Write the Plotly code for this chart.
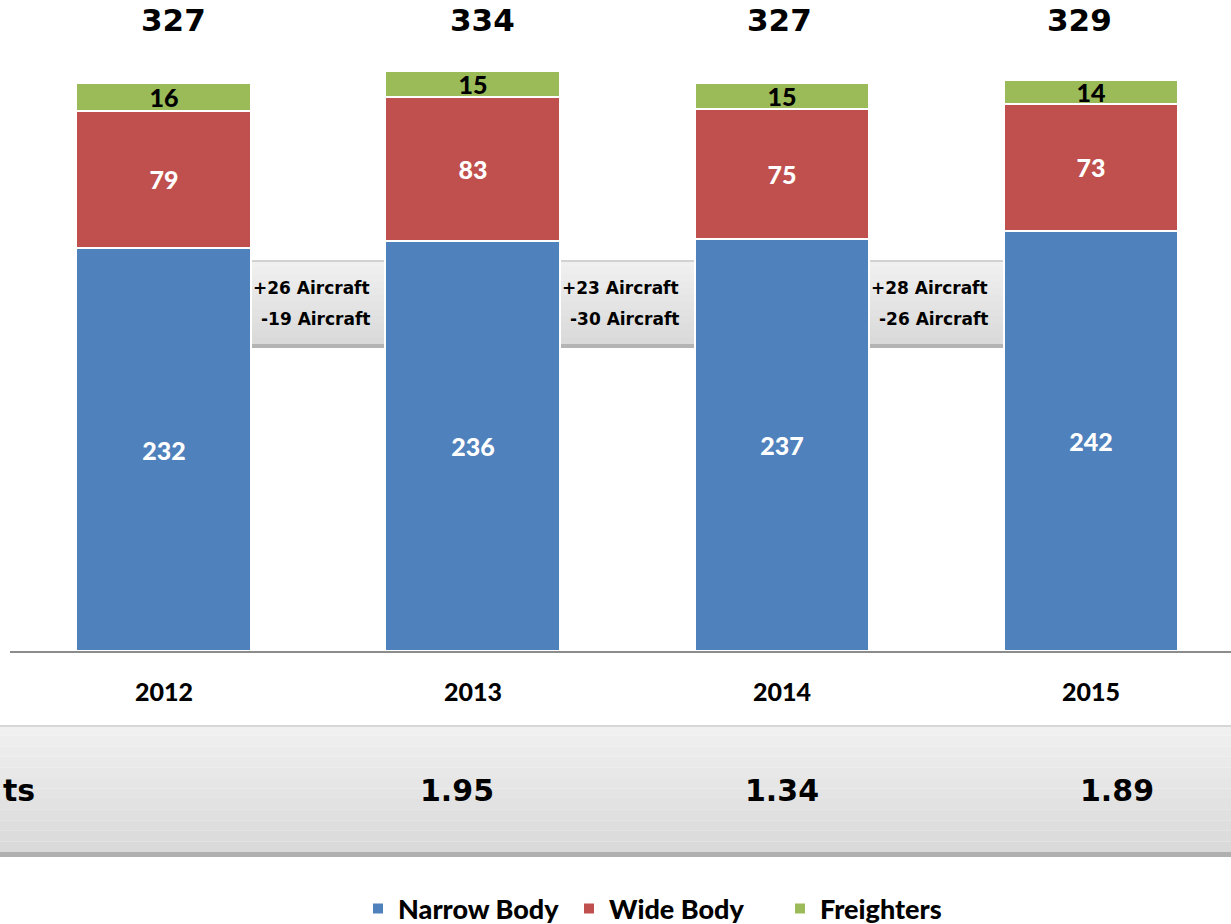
import plotly.graph_objects as go

years = ["2012", "2013", "2014", "2015"]
narrow_body = [232, 236, 237, 242]
wide_body = [79, 83, 75, 73]
freighters = [16, 15, 15, 14]
totals = [327, 334, 327, 329]
additions = ["+26 Aircraft", "+23 Aircraft", "+28 Aircraft"]
removals = ["-19 Aircraft", "-30 Aircraft", "-26 Aircraft"]
band_label = "ts"
band_values = ["1.95", "1.34", "1.89"]

# layout constants
W, H = 1231, 924
PLOT_L, PLOT_BOTTOM = 10, 651
PX_PER_UNIT = 1.737
BAR_W = 0.566
band_x = [0.948, 2.0, 3.084]
total_xshift = [10, 10, -2, -12]

BLUE, RED, GREEN = "#4F81BD", "#C0504D", "#9BBB59"
NUM_FONT = "Lato"
NUM_W = 900
DV = "DejaVu Sans"

xs = list(range(len(years)))

def py(Y):
    """pixel y -> paper y"""
    return (PLOT_BOTTOM - Y) / PLOT_BOTTOM

def px(X):
    return (X - PLOT_L) / (W - PLOT_L)

fig = go.Figure()
series = [
    ("Narrow Body", narrow_body, BLUE, "white"),
    ("Wide Body", wide_body, RED, "white"),
    ("Freighters", freighters, GREEN, "black"),
]
for name, vals, col, tcol in series:
    fig.add_trace(go.Bar(
        x=xs, y=vals, name=name, width=BAR_W,
        marker=dict(color=col, line=dict(color="white", width=2)),
        text=[str(v) for v in vals], textposition="inside", textangle=0,
        insidetextanchor="middle", constraintext="none",
        textfont=dict(family=NUM_FONT, size=25, color=tcol, weight=NUM_W),
        hoverinfo="skip",
    ))

shapes = []
# connector boxes (gradient via strips)
box_top, box_bot = 260, 344
nstrip = 12
for i in range(len(additions)):
    x0 = i + BAR_W / 2
    x1 = i + 1 - BAR_W / 2
    for k in range(nstrip):
        y0 = box_top + (box_bot - box_top) * k / nstrip
        y1 = box_top + (box_bot - box_top) * (k + 1) / nstrip
        g = int(240 - (240 - 218) * k / (nstrip - 1))
        shapes.append(dict(type="rect", xref="x", yref="paper", x0=x0, x1=x1,
                           y0=py(y1), y1=py(y0), line=dict(width=0),
                           fillcolor=f"rgb({g},{g},{g})", layer="below"))
    shapes.append(dict(type="rect", xref="x", yref="paper", x0=x0, x1=x1,
                       y0=py(box_top + 2), y1=py(box_top), line=dict(width=0),
                       fillcolor="#d2d2d2", layer="below"))
    shapes.append(dict(type="rect", xref="x", yref="paper", x0=x0, x1=x1,
                       y0=py(box_bot + 4), y1=py(box_bot), line=dict(width=0),
                       fillcolor="#b4b4b4", layer="below"))

# bottom band
band_top, band_bot = 725, 852
for k in range(nstrip):
    y0 = band_top + (band_bot - band_top) * k / nstrip
    y1 = band_top + (band_bot - band_top) * (k + 1) / nstrip
    g = int(240 - (240 - 218) * k / (nstrip - 1))
    shapes.append(dict(type="rect", xref="paper", yref="paper", x0=px(0), x1=1,
                       y0=py(y1), y1=py(y0), line=dict(width=0),
                       fillcolor=f"rgb({g},{g},{g})", layer="below"))
shapes.append(dict(type="rect", xref="paper", yref="paper", x0=px(0), x1=1,
                   y0=py(band_top + 2), y1=py(band_top), line=dict(width=0),
                   fillcolor="#d6d6d6", layer="below"))
shapes.append(dict(type="rect", xref="paper", yref="paper", x0=px(0), x1=1,
                   y0=py(band_bot + 5), y1=py(band_bot), line=dict(width=0),
                   fillcolor="#b0b0b0", layer="below"))

annotations = []
for i, t in enumerate(totals):
    annotations.append(dict(x=xs[i], y=py(20), xref="x", yref="paper", text=str(t),
                            showarrow=False, yanchor="middle", xshift=total_xshift[i],
                            font=dict(family=DV, size=31, color="black", weight="bold")))
    annotations.append(dict(x=xs[i], y=py(691), xref="x", yref="paper", text=years[i],
                            showarrow=False, yanchor="middle",
                            font=dict(family=NUM_FONT, size=25, color="black", weight=NUM_W)))
for i in range(len(additions)):
    annotations.append(dict(x=i + 0.5, y=py(288), xref="x", yref="paper", text=additions[i],
                            showarrow=False, yanchor="middle", xshift=-7,
                            font=dict(family=DV, size=17, color="black", weight="bold")))
    annotations.append(dict(x=i + 0.5, y=py(319), xref="x", yref="paper", text=removals[i],
                            showarrow=False, yanchor="middle", xshift=-3,
                            font=dict(family=DV, size=17, color="black", weight="bold")))
for bx, bv in zip(band_x, band_values):
    annotations.append(dict(x=bx, y=py(790), xref="x", yref="paper", text=bv,
                            showarrow=False, yanchor="middle",
                            font=dict(family=DV, size=30, color="black", weight="bold")))
annotations.append(dict(x=px(1), y=py(790), xref="paper", yref="paper", text=band_label,
                        showarrow=False, xanchor="left", yanchor="middle",
                        font=dict(family=DV, size=30, color="black", weight="bold")))

fig.update_layout(
    width=W, height=H,
    margin=dict(l=PLOT_L, r=0, t=0, b=H - PLOT_BOTTOM, pad=0, autoexpand=False),
    barmode="stack",
    plot_bgcolor="white", paper_bgcolor="white",
    xaxis=dict(range=[-0.498, 3.453], showticklabels=False, showgrid=False,
               zeroline=False, showline=True, linecolor="#8c8c8c", linewidth=2,
               ticks="", fixedrange=True),
    yaxis=dict(range=[0, PLOT_BOTTOM / PX_PER_UNIT], visible=False, fixedrange=True),
    showlegend=True,
    legend=dict(orientation="h", xref="container", yref="container",
                x=358 / W, xanchor="left", y=(H - 909) / H, yanchor="middle",
                entrywidth=166, entrywidthmode="pixels",
                font=dict(family=NUM_FONT, size=27, color="black", weight=NUM_W),
                itemwidth=30, traceorder="normal", bgcolor="rgba(0,0,0,0)"),
    shapes=shapes,
    annotations=annotations,
)

fig.write_html("out.html", config={"displayModeBar": False},
               post_script="document.body.style.margin='0';document.body.style.overflow='hidden';")
